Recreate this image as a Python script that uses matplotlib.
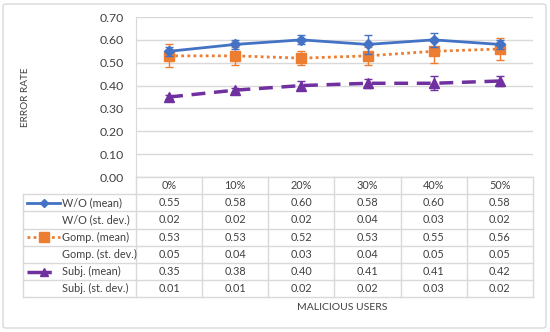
import matplotlib.pyplot as plt
from matplotlib.patches import FancyBboxPatch

# data
categories = ['0%', '10%', '20%', '30%', '40%', '50%']
wo_mean = [0.55, 0.58, 0.60, 0.58, 0.60, 0.58]
wo_std = [0.02, 0.02, 0.02, 0.04, 0.03, 0.02]
gomp_mean = [0.53, 0.53, 0.52, 0.53, 0.55, 0.56]
gomp_std = [0.05, 0.04, 0.03, 0.04, 0.05, 0.05]
subj_mean = [0.35, 0.38, 0.40, 0.41, 0.41, 0.42]
subj_std = [0.01, 0.01, 0.02, 0.02, 0.03, 0.02]
row_labels = ['W/O (mean)', 'W/O (st. dev.)', 'Gomp. (mean)', 'Gomp. (st. dev.)',
              'Subj. (mean)', 'Subj. (st. dev.)']

W, H = 550, 332
plt.rcParams['font.family'] = ['Lato', 'DejaVu Sans']
text_col = '#404040'
grid_col = '#D9D9D9'
fs = 7.8

fig = plt.figure(figsize=(W / 100, H / 100), dpi=100)

def px(x0, y0, x1, y1):
    return [x0 / W, 1 - y1 / H, (x1 - x0) / W, (y1 - y0) / H]

# outer border
fig.patches.append(FancyBboxPatch((3 / W, 4 / H), 543 / W, 324 / H,
                                  boxstyle='round,pad=0,rounding_size=0.006',
                                  transform=fig.transFigure, fc='none',
                                  ec='#D9D9D9', lw=1, zorder=-1))

L, R, T, B = 136, 533, 17, 177
ax = fig.add_axes(px(L, T, R, B))
ax.patch.set_alpha(0)
x = list(range(len(categories)))

ax.errorbar(x, wo_mean, yerr=wo_std, color='#4472C4', lw=2, marker='D', ms=5,
            capsize=3, elinewidth=1, capthick=1, zorder=4)
ax.errorbar(x, gomp_mean, yerr=gomp_std, color='#ED7D31', lw=2, ls=(0, (1, 1.2)),
            marker='s', ms=7, capsize=3, elinewidth=1, capthick=1, zorder=3)
ax.errorbar(x, subj_mean, yerr=subj_std, color='#7030A0', lw=2.5, ls=(0, (4, 2.5)),
            marker='^', ms=6.5, capsize=3, elinewidth=1, capthick=1, zorder=3)

ax.set_xlim(-0.5, 5.5)
ax.set_ylim(0, 0.7)
ax.set_yticks([i / 10 for i in range(8)])
ax.set_yticklabels([f'{i / 10:.2f}' for i in range(8)], fontsize=8.8, color=text_col)
ax.set_xticks([])
ax.grid(axis='y', color=grid_col, lw=1)
ax.set_axisbelow(True)
ax.tick_params(axis='y', length=0, pad=9)
for s in ['top', 'right', 'bottom']:
    ax.spines[s].set_visible(False)
ax.spines['left'].set_color(grid_col)
fig.text(26 / W, 1 - 97 / H, 'ERROR RATE', rotation=90, ha='center', va='center',
         fontsize=fs - 0.6, color=text_col)

# data table
tb = fig.add_axes(px(L, B, R, 297.3))
tb.set_xlim(-0.5, 5.5)
tb.set_ylim(7, 0)
tb.axis('off')
cw = (R - L) / 6
leg_left = -0.5 - (L - 23) / cw
key_l = -0.5 - (L - 27) / cw
key_r = -0.5 - (L - 60) / cw
txt_x = -0.5 - (L - 62) / cw

lk = dict(color=grid_col, lw=1, clip_on=False)
# horizontal lines
tb.plot([-0.5, 5.5], [0, 0], **lk)
for r in range(1, 8):
    tb.plot([leg_left, 5.5], [r, r], **lk)
# vertical lines
for c in range(7):
    tb.plot([c - 0.5, c - 0.5], [0, 7], **lk)
tb.plot([leg_left, leg_left], [1, 7], **lk)

for c, cat in enumerate(categories):
    tb.text(c, 0.5, cat, ha='center', va='center', fontsize=fs, color=text_col)
rows = [wo_mean, wo_std, gomp_mean, gomp_std, subj_mean, subj_std]
for r, (lab, vals) in enumerate(zip(row_labels, rows), start=1):
    tb.text(txt_x, r + 0.5, lab, ha='left', va='center', fontsize=fs, color=text_col,
            clip_on=False)
    for c, v in enumerate(vals):
        tb.text(c, r + 0.5, f'{v:.2f}', ha='center', va='center', fontsize=fs,
                color=text_col)

# legend keys
km = (key_l + key_r) / 2
tb.plot([key_l, key_r], [1.5, 1.5], color='#4472C4', lw=2, clip_on=False)
tb.plot([km], [1.5], marker='D', ms=4, color='#4472C4', clip_on=False)
tb.plot([key_l, key_r], [3.5, 3.5], color='#ED7D31', lw=2, ls=(0, (1, 1.2)), clip_on=False)
tb.plot([km], [3.5], marker='s', ms=6.5, color='#ED7D31', clip_on=False)
tb.plot([key_l, key_r], [5.5, 5.5], color='#7030A0', lw=2.5, ls=(0, (7, 2.5)), clip_on=False)
tb.plot([km], [5.5], marker='^', ms=5.5, color='#7030A0', clip_on=False)

fig.text(342 / W, 1 - 307 / H, 'MALICIOUS USERS', ha='center', va='center',
         fontsize=fs - 0.3, color=text_col)

fig.savefig('out.png', dpi=100)
